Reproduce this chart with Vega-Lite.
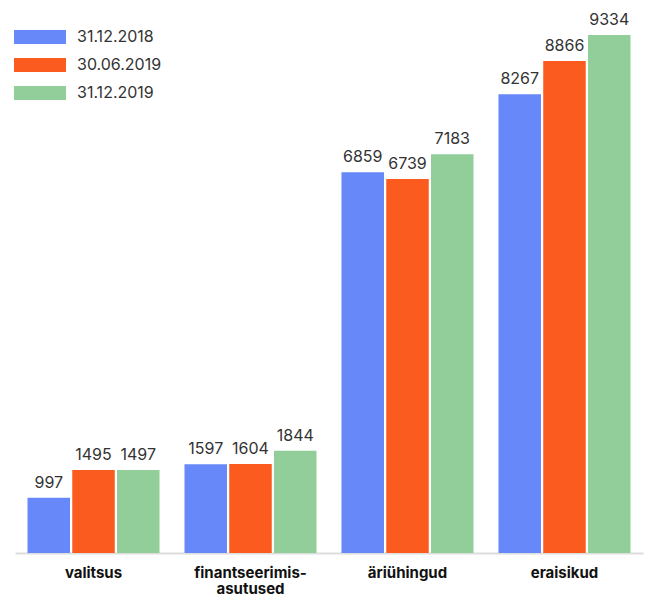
{
  "$schema": "https://vega.github.io/schema/vega-lite/v6.json",
  "autosize": "none",
  "width": 628,
  "height": 553,
  "padding": {"left": 15, "top": 0, "right": 3, "bottom": 44},
  "background": "white",
  "config": {
    "view": {"stroke": null},
    "font": "Inter"
  },
  "data": {
    "values": [
      {"sektor": "valitsus", "kuupäev": "31.12.2018", "väärtus": 997},
      {"sektor": "valitsus", "kuupäev": "30.06.2019", "väärtus": 1495},
      {"sektor": "valitsus", "kuupäev": "31.12.2019", "väärtus": 1497},
      {"sektor": "finantseerimis-asutused", "kuupäev": "31.12.2018", "väärtus": 1597},
      {"sektor": "finantseerimis-asutused", "kuupäev": "30.06.2019", "väärtus": 1604},
      {"sektor": "finantseerimis-asutused", "kuupäev": "31.12.2019", "väärtus": 1844},
      {"sektor": "äriühingud", "kuupäev": "31.12.2018", "väärtus": 6859},
      {"sektor": "äriühingud", "kuupäev": "30.06.2019", "väärtus": 6739},
      {"sektor": "äriühingud", "kuupäev": "31.12.2019", "väärtus": 7183},
      {"sektor": "eraisikud", "kuupäev": "31.12.2018", "väärtus": 8267},
      {"sektor": "eraisikud", "kuupäev": "30.06.2019", "väärtus": 8866},
      {"sektor": "eraisikud", "kuupäev": "31.12.2019", "väärtus": 9334}
    ]
  },
  "encoding": {
    "x": {
      "field": "sektor",
      "type": "nominal",
      "sort": ["valitsus", "finantseerimis-asutused", "äriühingud", "eraisikud"],
      "scale": {"paddingInner": 0.159, "paddingOuter": 0.0796},
      "axis": {
        "title": null,
        "labelAngle": 0,
        "labelFont": "Inter",
        "labelFontWeight": "bold",
        "labelFontSize": 15,
        "labelColor": "#111111",
        "labelPadding": 12,
        "labelLineHeight": 16,
        "labelExpr": "datum.value == 'finantseerimis-asutused' ? ['finantseerimis-', 'asutused'] : datum.value",
        "ticks": false,
        "domainColor": "#dddddd",
        "domainWidth": 2,
        "grid": false
      }
    },
    "xOffset": {
      "field": "kuupäev",
      "type": "nominal",
      "sort": ["31.12.2018", "30.06.2019", "31.12.2019"],
      "scale": {"paddingInner": 0.05, "paddingOuter": 0}
    },
    "y": {
      "field": "väärtus",
      "type": "quantitative",
      "scale": {"domain": [0, 9964], "nice": false, "zero": true},
      "axis": null
    }
  },
  "layer": [
    {
      "mark": {"type": "bar"},
      "encoding": {
        "color": {
          "field": "kuupäev",
          "type": "nominal",
          "sort": ["31.12.2018", "30.06.2019", "31.12.2019"],
          "scale": {
            "domain": ["31.12.2018", "30.06.2019", "31.12.2019"],
            "range": ["#6688F9", "#FC5B1F", "#92CE99"]
          },
          "legend": {
            "title": null,
            "orient": "none",
            "legendX": 12,
            "legendY": 24,
            "padding": 0,
            "symbolType": "M-2,-0.54H2V0.54H-2Z",
            "symbolSize": 676,
            "symbolStrokeWidth": 0,
            "symbolOpacity": 1,
            "labelFont": "Inter",
            "labelFontSize": 16,
            "labelColor": "#333333",
            "labelOffset": 24,
            "rowPadding": 7
          }
        }
      }
    },
    {
      "mark": {
        "type": "text",
        "baseline": "alphabetic",
        "dy": -10,
        "fontSize": 16,
        "font": "Inter",
        "color": "#333333"
      },
      "encoding": {
        "text": {"field": "väärtus", "type": "quantitative", "format": "d"}
      }
    }
  ]
}
